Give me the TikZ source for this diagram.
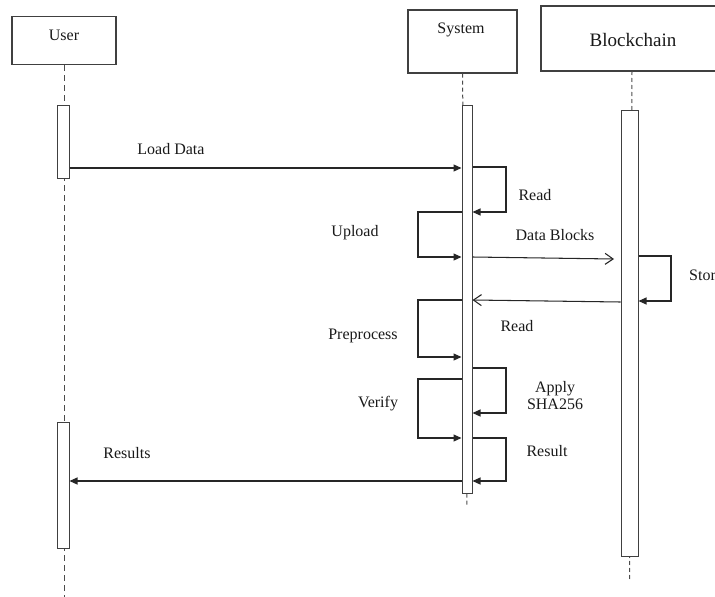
\documentclass[tikz,border=0pt]{standalone}
\usepackage{fontspec}
\setmainfont{Liberation Serif}
\usetikzlibrary{arrows.meta}
\begin{document}
\begin{tikzpicture}[x=1pt,y=-1pt,
  lbl/.style={font=\fontsize{16}{18}\selectfont, inner sep=0pt, text=black!90},
  headbox/.style={draw=black!75, line width=1.1pt, fill=white, inner sep=0pt},
  actbar/.style={draw=black!75, line width=1pt, fill=white, inner sep=0pt},
  life/.style={draw=black!70, line width=1pt, dash pattern=on 6pt off 4pt},
  lifes/.style={draw=black!70, line width=1pt, dash pattern=on 4pt off 3pt},
  msg/.style={draw=black!85, line width=1.05pt, -{Triangle[length=8pt,width=7pt]}},
  omsg/.style={draw=black!85, line width=1.05pt, -{Straight Barb[length=8pt,width=11pt]}}
]
\useasboundingbox (0,0) rectangle (715,597);
\clip (0,0) rectangle (715,597);

% lifeline heads
\node[headbox, minimum width=104pt, minimum height=48pt] (user) at (64,40.5) {};
\node[lbl] (userT) at (64,35) {User};
\node[headbox, minimum width=109pt, minimum height=63pt] (sys) at (462.5,41.5) {};
\node[lbl] (sysT) at (461,30) {System};
\node[headbox, minimum width=200pt, minimum height=65pt] (bc) at (641,38.5) {};
\node[lbl, font=\fontsize{19}{21}\selectfont] (bcT) at (633,40) {Blockchain};

% lifeline end points
\coordinate (userEnd) at (64,597);
\coordinate (sysEnd) at (467,506);
\coordinate (bcTop) at (632,71);
\coordinate (bcEnd) at (629.5,580);

% lifelines
\draw[life] (user.south) -- (userEnd);
\draw[lifes] (sys.south) -- (sysEnd);
\draw[lifes] (bcTop) -- (bcEnd);

% activation bars
\node[actbar, minimum width=12pt, minimum height=73pt] (ua1) at (63,141.5) {};
\node[actbar, minimum width=12pt, minimum height=126pt] (ua2) at (63,485) {};
\node[actbar, minimum width=10pt, minimum height=388pt] (sa) at (467,299) {};
\node[actbar, minimum width=17pt, minimum height=446pt] (ba) at (629.5,333) {};

% Load Data
\coordinate (ld1) at (ua1.east |- 0,168);
\coordinate (ld2) at (sa.west |- 0,168);
\draw[msg] (ld1) -- (ld2);
\node[lbl] (ldT) at (171,149) {Load Data};

% Read (self, right)
\coordinate (r1a) at (sa.east |- 0,167);
\coordinate (r1b) at (506,167);
\coordinate (r1c) at (506,212);
\coordinate (r1d) at (sa.east |- 0,212);
\draw[msg] (r1a) -- (r1b) -- (r1c) -- (r1d);
\node[lbl] (r1T) at (535,195) {Read};

% Upload (self, left)
\coordinate (upa) at (sa.west |- 0,212);
\coordinate (upb) at (418,212);
\coordinate (upc) at (418,257);
\coordinate (upd) at (sa.west |- 0,257);
\draw[msg] (upa) -- (upb) -- (upc) -- (upd);
\node[lbl] (upT) at (355,233) {Upload};

% Data Blocks
\coordinate (db1) at (sa.east |- 0,257);
\coordinate (db2) at (614,259);
\draw[omsg] (db1) -- (db2);
\node[lbl] (dbT) at (555,235) {Data Blocks};

% Store (self, right of blockchain)
\coordinate (sta) at (ba.east |- 0,256);
\coordinate (stb) at (671,256);
\coordinate (stc) at (671,301);
\coordinate (std) at (ba.east |- 0,301);
\draw[msg] (sta) -- (stb) -- (stc) -- (std);
\node[lbl, anchor=west] (stT) at (689,275) {Store};

% Read (return)
\coordinate (rr1) at (ba.west |- 0,302);
\coordinate (rr2) at (sa.east |- 0,300);
\draw[omsg] (rr1) -- (rr2);
\node[lbl] (rrT) at (517,326) {Read};

% Preprocess (self, left)
\coordinate (ppa) at (sa.west |- 0,300);
\coordinate (ppb) at (418,300);
\coordinate (ppc) at (418,357);
\coordinate (ppd) at (sa.west |- 0,357);
\draw[msg] (ppa) -- (ppb) -- (ppc) -- (ppd);
\node[lbl] (ppT) at (363,336) {Preprocess};

% Apply SHA256 (self, right)
\coordinate (apa) at (sa.east |- 0,368);
\coordinate (apb) at (506,368);
\coordinate (apc) at (506,413);
\coordinate (apd) at (sa.east |- 0,413);
\draw[msg] (apa) -- (apb) -- (apc) -- (apd);
\node[lbl, align=center] (apT) at (555,395.5) {Apply\\[-1pt]SHA256};

% Verify (self, left)
\coordinate (vea) at (sa.west |- 0,379);
\coordinate (veb) at (418,379);
\coordinate (vec) at (418,438);
\coordinate (ved) at (sa.west |- 0,438);
\draw[msg] (vea) -- (veb) -- (vec) -- (ved);
\node[lbl] (veT) at (378,404) {Verify};

% Result (self, right)
\coordinate (rea) at (sa.east |- 0,438);
\coordinate (reb) at (506,438);
\coordinate (rec) at (506,481);
\coordinate (red) at (sa.east |- 0,481);
\draw[msg] (rea) -- (reb) -- (rec) -- (red);
\node[lbl] (reT) at (547,451) {Result};

% Results
\coordinate (rs1) at (sa.west |- 0,481);
\coordinate (rs2) at (ua2.east |- 0,481);
\draw[msg] (rs1) -- (rs2);
\node[lbl] (rsT) at (127,453) {Results};
\end{tikzpicture}
\end{document}
